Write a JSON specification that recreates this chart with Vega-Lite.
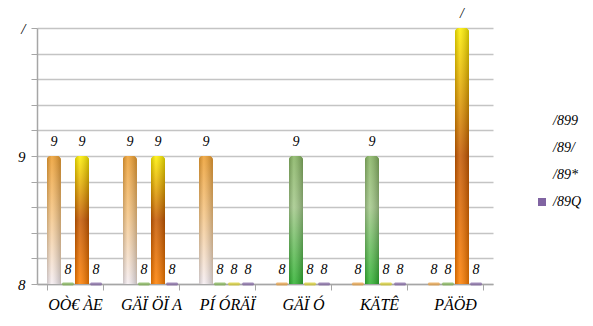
{
  "$schema": "https://vega.github.io/schema/vega-lite/v6.json",
  "width": 456,
  "height": 256,
  "autosize": "none",
  "padding": {"left": 37, "top": 28, "right": 100, "bottom": 42},
  "background": "white",
  "config": {"view": {"stroke": null}, "font": "Liberation Serif"},
  "data": {
    "values": [
      {"cat": "OÒ€ ÀE", "series": "/899", "value": 1, "label": "9"},
      {"cat": "OÒ€ ÀE", "series": "/89/", "value": 0, "label": "8"},
      {"cat": "OÒ€ ÀE", "series": "/89*", "value": 1, "label": "9"},
      {"cat": "OÒ€ ÀE", "series": "/89Q", "value": 0, "label": "8"},
      {"cat": "GÄÏ ÖÏ A", "series": "/899", "value": 1, "label": "9"},
      {"cat": "GÄÏ ÖÏ A", "series": "/89/", "value": 0, "label": "8"},
      {"cat": "GÄÏ ÖÏ A", "series": "/89*", "value": 1, "label": "9"},
      {"cat": "GÄÏ ÖÏ A", "series": "/89Q", "value": 0, "label": "8"},
      {"cat": "PÍ ÓRÄÏ", "series": "/899", "value": 1, "label": "9"},
      {"cat": "PÍ ÓRÄÏ", "series": "/89/", "value": 0, "label": "8"},
      {"cat": "PÍ ÓRÄÏ", "series": "/89*", "value": 0, "label": "8"},
      {"cat": "PÍ ÓRÄÏ", "series": "/89Q", "value": 0, "label": "8"},
      {"cat": "GÄÏ Ó", "series": "/899", "value": 0, "label": "8"},
      {"cat": "GÄÏ Ó", "series": "/89/", "value": 1, "label": "9"},
      {"cat": "GÄÏ Ó", "series": "/89*", "value": 0, "label": "8"},
      {"cat": "GÄÏ Ó", "series": "/89Q", "value": 0, "label": "8"},
      {"cat": "KÄTÊ", "series": "/899", "value": 0, "label": "8"},
      {"cat": "KÄTÊ", "series": "/89/", "value": 1, "label": "9"},
      {"cat": "KÄTÊ", "series": "/89*", "value": 0, "label": "8"},
      {"cat": "KÄTÊ", "series": "/89Q", "value": 0, "label": "8"},
      {"cat": "PÄÖÐ", "series": "/899", "value": 0, "label": "8"},
      {"cat": "PÄÖÐ", "series": "/89/", "value": 0, "label": "8"},
      {"cat": "PÄÖÐ", "series": "/89*", "value": 2, "label": "/"},
      {"cat": "PÄÖÐ", "series": "/89Q", "value": 0, "label": "8"}
    ]
  },
  "encoding": {
    "x": {
      "field": "cat", "type": "nominal", "sort": null,
      "scale": {"paddingInner": 0.26, "paddingOuter": 0.13},
      "axis": {
        "title": null, "labelAngle": 0, "labelFontSize": 16, "labelFontStyle": "italic",
        "labelFont": "Liberation Serif", "labelColor": "#000000",
        "tickBand": "extent", "tickSize": 6, "tickColor": "#A6A6A6", "domainColor": "#A6A6A6",
        "domainWidth": 1.5, "labelPadding": 6, "grid": false
      }
    },
    "xOffset": {
      "field": "series", "type": "nominal", "sort": null,
      "scale": {"domain": ["/899", "/89/", "/89*", "/89Q"], "paddingInner": 0, "paddingOuter": 0}
    },
    "y": {
      "field": "value", "type": "quantitative",
      "scale": {"domain": [0, 2], "nice": false},
      "axis": {
        "title": null,
        "values": [0, 0.2, 0.4, 0.6, 0.8, 1, 1.2, 1.4, 1.6, 1.8, 2],
        "labelExpr": "datum.value == 0 ? '8' : datum.value == 1 ? '9' : datum.value == 2 ? '/' : ''",
        "grid": true, "gridColor": "#C4C4C4", "gridWidth": 1.5,
        "domainColor": "#A6A6A6", "domainWidth": 1.5, "tickColor": "#A6A6A6", "tickSize": 6,
        "labelFont": "Liberation Serif", "labelFontStyle": "italic", "labelFontSize": 15,
        "labelColor": "#000000", "labelPadding": 6
      }
    }
  },
  "layer": [
    {
      "mark": {"type": "bar", "cornerRadiusEnd": 4},
      "encoding": {
        "color": {
          "field": "series", "type": "nominal",
          "scale": {"domain": ["/899", "/89/", "/89*", "/89Q"], "range": ["#E9A040", "#7FB350", "#D9CF2A", "#8064A2"]},
          "legend": {
            "title": null, "orient": "none", "legendX": 498, "legendY": 86,
            "symbolType": "square", "symbolSize": 64, "labelFont": "Liberation Serif",
            "labelFontStyle": "italic", "labelFontSize": 14, "labelColor": "#000000",
            "rowPadding": 13, "labelOffset": 4,
            "encode": {"symbols": {"update": {"opacity": {"signal": "datum.value === '/89Q' ? 1 : 0"}}}}
          }
        }
      }
    },
    {
      "transform": [{"filter": "datum.series == '/899' && datum.value > 0"}],
      "mark": {
        "type": "bar", "cornerRadiusEnd": 4,
        "color": {"gradient": "linear", "x1": 0, "y1": 0, "x2": 0, "y2": 1,
          "stops": [{"offset": 0, "color": "#EE9E2E"}, {"offset": 0.45, "color": "#F6C583"}, {"offset": 1, "color": "#F6EEF2"}]}
      }
    },
    {
      "transform": [{"filter": "datum.series == '/89/' && datum.value > 0"}],
      "mark": {
        "type": "bar", "cornerRadiusEnd": 4,
        "color": {"gradient": "linear", "x1": 0, "y1": 0, "x2": 0, "y2": 1,
          "stops": [{"offset": 0, "color": "#86B461"}, {"offset": 0.4, "color": "#A4C98A"}, {"offset": 1, "color": "#2EB230"}]}
      }
    },
    {
      "transform": [{"filter": "datum.series == '/89*' && datum.value > 0"}],
      "mark": {
        "type": "bar", "cornerRadiusEnd": 4,
        "color": {"gradient": "linear", "x1": 0, "y1": 0, "x2": 0, "y2": 1,
          "stops": [{"offset": 0, "color": "#FFF000"}, {"offset": 0.5, "color": "#C65800"}, {"offset": 1, "color": "#FF7F00"}]}
      }
    },
    {
      "transform": [{"filter": "datum.value > 0"}],
      "mark": {
        "type": "bar", "cornerRadiusEnd": 4,
        "color": {"gradient": "linear", "x1": 0, "y1": 0, "x2": 1, "y2": 0,
          "stops": [{"offset": 0, "color": "rgba(0,0,0,0.18)"}, {"offset": 0.35, "color": "rgba(255,255,255,0.15)"}, {"offset": 1, "color": "rgba(0,0,0,0.22)"}]}
      }
    },
    {
      "transform": [{"filter": "datum.value == 0"}],
      "mark": {"type": "tick", "thickness": 3, "size": 12, "cornerRadius": 2},
      "encoding": {
        "color": {"field": "series", "type": "nominal", "legend": null,
          "scale": {"domain": ["/899", "/89/", "/89*", "/89Q"], "range": ["#E9A040", "#7FB350", "#D9CF2A", "#8064A2"]}}
      }
    },
    {
      "mark": {"type": "text", "dy": -10, "font": "Liberation Serif", "fontStyle": "italic", "fontSize": 14, "color": "#000000", "baseline": "alphabetic"},
      "encoding": {"text": {"field": "label"}}
    }
  ]
}
